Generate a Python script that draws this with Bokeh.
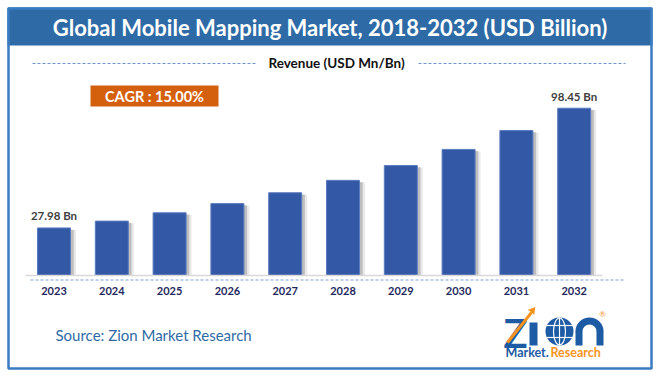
import math
from bokeh.plotting import figure
from bokeh.models import Range1d, ColumnDataSource
from bokeh.transform import dodge
from bokeh.core.properties import value
from bokeh.embed import file_html
from bokeh.resources import INLINE

# ---- data ----
years = [2023, 2024, 2025, 2026, 2027, 2028, 2029, 2030, 2031, 2032]
revenue = [27.98, 32.0, 36.9, 42.3, 48.7, 56.0, 64.7, 74.2, 85.3, 98.45]
year_labels = [str(y) for y in years]
labeled_years = [2023, 2032]
labeled_values = [27.98, 98.45]
value_labels = [f"{v:.2f} Bn" for v in labeled_values]

title_text = "Global Mobile Mapping Market, 2018-2032 (USD Billion)"
subtitle_text = "Revenue (USD Mn/Bn)"
cagr_text = "CAGR : 15.00%"
source_text = "Source: Zion Market Research"

# ---- styling ----
W, H = 659, 375
BANNER = "#2E6BA6"
BORDER = "#3A7BC2"
BAR = "#3358A6"
FONT = value("Lato")

p = figure(width=W, height=H,
           x_range=Range1d(2022.0744, 2033.4758),
           y_range=Range1d(-58.85, 161.83),
           toolbar_location=None, output_backend="svg",
           x_axis_type=None, y_axis_type=None, min_border=0,
           outline_line_color=None, background_fill_color="white",
           border_fill_color="white")
p.xgrid.visible = False
p.ygrid.visible = False
p.extra_x_ranges = {"px": Range1d(0, W)}
p.extra_y_ranges = {"px": Range1d(H, 0)}
PX = dict(x_range_name="px", y_range_name="px")

# title banner
p.quad(left=7, right=652, top=7, bottom=45, fill_color=BANNER, line_color=None, **PX)
p.text(x=[329.5], y=[27], text=[title_text], text_align="center", text_baseline="middle",
       text_color="white", text_font=FONT, text_font_style="bold", text_font_size="22px", **PX)

# subtitle with dashed rules
p.text(x=[336], y=[62], text=[subtitle_text], text_align="center", text_baseline="middle",
       text_color="#111111", text_font=FONT, text_font_style="bold", text_font_size="13.5px", **PX)
p.segment(x0=[32, 418], x1=[255, 625], y0=[63, 63], y1=[63, 63],
          line_color="#6F93D2", line_width=1, line_dash="3 2", **PX)

# CAGR box
p.quad(left=90, right=218, top=85, bottom=106, fill_color="#D4600E", line_color=None, **PX)
p.text(x=[154], y=[96], text=[cagr_text], text_align="center", text_baseline="middle",
       text_color="white", text_font=FONT, text_font_style="bold", text_font_size="14.5px", **PX)

# bars with soft shadow
src = ColumnDataSource(dict(year=years, revenue=revenue, label=year_labels))
p.vbar(x=dodge("year", 0.095, range=p.x_range), top=dodge("revenue", -1.2, range=p.y_range),
       bottom=0, width=0.571, fill_color="#9A9A9A", fill_alpha=0.22, line_color=None, source=src)
p.vbar(x=dodge("year", 0.055, range=p.x_range), top=dodge("revenue", -1.0, range=p.y_range),
       bottom=0, width=0.571, fill_color="#707070", fill_alpha=0.35, line_color=None, source=src)
p.vbar(x="year", top="revenue", bottom=0, width=0.571, fill_color=BAR,
       line_color="#5C7CC0", line_width=1, source=src)

# baseline and dashed rule
p.segment(x0=[25], x1=[602], y0=[275], y1=[275], line_color="#D9D9D9", line_width=1.5, **PX)
p.segment(x0=[30], x1=[624], y0=[279.5], y1=[279.5], line_color="#7F9FD6",
          line_width=1, line_dash="3 2", **PX)

# year labels
p.text(x="year", y=290, text="label", source=src, y_range_name="px",
       text_align="center", text_baseline="middle", text_color="#1F2A5C",
       text_font=FONT, text_font_style="bold", text_font_size="11px")

# value labels
p.text(x=labeled_years, y=labeled_values, text=value_labels, y_offset=-12,
       text_align="center", text_baseline="middle", text_color="#404040",
       text_font=FONT, text_font_style="bold", text_font_size="11.5px")

# source
p.text(x=[55], y=[334], text=[source_text], text_align="left", text_baseline="middle",
       text_color="#2E6BA6", text_font=FONT, text_font_size="15px", **PX)

# logo
LOGO_BLUE = "#1D5BA5"
LOGO_ORANGE = "#F7941D"
p.text(x=[503], y=[332], text=["Z"], text_align="left", text_baseline="middle",
       text_color=LOGO_BLUE, text_font=FONT, text_font_style="bold", text_font_size="40px", **PX)
p.quad(left=[529], right=[537], top=[322], bottom=[345], fill_color=LOGO_BLUE, line_color=None, **PX)
p.circle(x=[559], y=[331], radius=14, fill_color=LOGO_BLUE, line_color=None, **PX)
p.ellipse(x=[559], y=[331], width=12, height=27, fill_color=None, line_color="white",
          line_width=1.2, **PX)
p.segment(x0=[546, 546, 559], x1=[572, 572, 559], y0=[325, 337, 317], y1=[325, 337, 345],
          line_color="white", line_width=1.2, **PX)
p.annular_wedge(x=[589], y=[331], inner_radius=7, outer_radius=14,
                start_angle=0, end_angle=math.pi, fill_color=LOGO_BLUE, line_color=None, **PX)
p.quad(left=[575, 596], right=[582, 603], top=[330.5, 330.5], bottom=[345, 345],
       fill_color=LOGO_BLUE, line_color=None, **PX)
p.segment(x0=[507], x1=[531], y0=[342], y1=[312], line_color=LOGO_ORANGE, line_width=3, **PX)
p.scatter(x=[532], y=[310], marker="triangle", size=8, angle=-0.67,
          fill_color=LOGO_ORANGE, line_color=None, **PX)
p.text(x=[602], y=[313], text=["®"], text_align="center", text_baseline="middle",
       text_color=LOGO_ORANGE, text_font=FONT, text_font_size="8px", **PX)
p.text(x=[505], y=[352], text=["Market."], text_align="left", text_baseline="middle",
       text_color=LOGO_BLUE, text_font=FONT, text_font_style="bold", text_font_size="12.5px", **PX)
p.text(x=[550], y=[352], text=["Research"], text_align="left", text_baseline="middle",
       text_color=LOGO_ORANGE, text_font=FONT, text_font_style="bold", text_font_size="12.5px", **PX)

# outer border
p.quad(left=8, right=651, top=8, bottom=368, fill_color=None,
       line_color=BORDER, line_width=2.5, **PX)

open("out.html", "w").write(file_html(p, INLINE))
